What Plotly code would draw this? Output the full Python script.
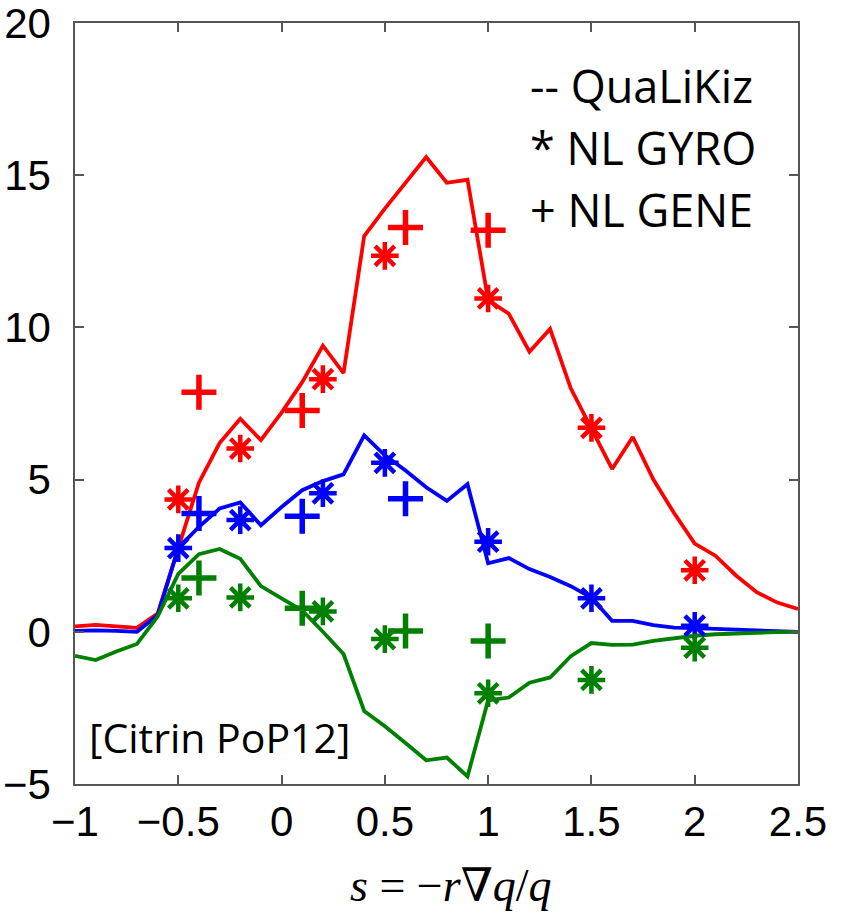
import plotly.graph_objects as go

# ---- data ----
s_grid = [-1.0, -0.9, -0.8, -0.7, -0.6, -0.5, -0.4, -0.3, -0.2, -0.1,
          0.0, 0.1, 0.2, 0.3, 0.4, 0.5, 0.6, 0.7, 0.8, 0.9,
          1.0, 1.1, 1.2, 1.3, 1.4, 1.5, 1.6, 1.7, 1.8, 1.9,
          2.0, 2.1, 2.2, 2.3, 2.4, 2.5]

qlk_red = [0.18, 0.23, 0.18, 0.13, 0.6, 2.8, 4.9, 6.2, 7.0, 6.3,
           7.2, 8.2, 9.4, 8.5, 13.0, 13.9, 14.75, 15.6, 14.75, 14.85,
           10.9, 10.45, 9.2, 9.95, 8.0, 6.7, 5.35, 6.4, 5.0, 3.9,
           2.9, 2.5, 1.85, 1.3, 0.96, 0.75]

qlk_blue = [0.03, 0.05, 0.03, 0.0, 0.55, 2.75, 3.45, 4.05, 4.25, 3.5,
            4.1, 4.65, 4.95, 5.17, 6.45, 5.8, 5.3, 4.75, 4.3, 4.85,
            2.25, 2.42, 2.06, 1.8, 1.5, 1.12, 0.36, 0.36, 0.22, 0.14,
            0.12, 0.1, 0.07, 0.04, 0.02, 0.0]

qlk_green = [-0.79, -0.93, -0.65, -0.4, 0.5, 1.9, 2.55, 2.72, 2.4, 1.5,
             1.1, 0.7, 0.0, -0.73, -2.6, -3.1, -3.65, -4.22, -4.13, -4.75,
             -2.25, -2.16, -1.67, -1.5, -0.8, -0.37, -0.43, -0.42, -0.3, -0.2,
             -0.13, -0.08, -0.05, -0.03, -0.01, 0.0]

gyro_s = [-0.5, -0.2, 0.2, 0.5, 1.0, 1.5, 2.0]
gyro_red = [4.35, 6.02, 8.3, 12.35, 10.95, 6.7, 2.02]
gyro_blue = [2.75, 3.67, 4.55, 5.55, 2.96, 1.1, 0.2]
gyro_green = [1.1, 1.13, 0.67, -0.24, -2.02, -1.58, -0.52]

gene_s = [-0.4, 0.1, 0.6, 1.0]
gene_red = [7.87, 7.27, 13.28, 13.19]
gene_blue = [3.89, 3.8, 4.37, None]
gene_green = [1.77, 0.77, 0.03, -0.3]

x_ticks = [-1, -0.5, 0, 0.5, 1, 1.5, 2, 2.5]
x_tick_labels = ["\u22121", "\u22120.5", "0", "0.5", "1", "1.5", "2", "2.5"]
y_ticks = [-5, 0, 5, 10, 15, 20]
y_tick_labels = ["\u22125", "0", "5", "10", "15", "20"]

RED = "#FF0000"
BLUE = "#0000FF"
GREEN = "#008000"

fig = go.Figure()

for ys, c in [(qlk_red, RED), (qlk_blue, BLUE), (qlk_green, GREEN)]:
    fig.add_trace(go.Scatter(x=s_grid, y=ys, mode="lines",
                             line=dict(color=c, width=3.8), showlegend=False))

for ys, c in [(gyro_red, RED), (gyro_blue, BLUE), (gyro_green, GREEN)]:
    fig.add_trace(go.Scatter(x=gyro_s, y=ys, mode="markers",
                             marker=dict(symbol="asterisk-open", size=23, color=c,
                                         line=dict(color=c, width=4.5)),
                             showlegend=False))

for ys, c in [(gene_red, RED), (gene_blue, BLUE), (gene_green, GREEN)]:
    fig.add_trace(go.Scatter(x=gene_s, y=ys, mode="markers",
                             marker=dict(symbol="cross-thin-open", size=25, color=c,
                                         line=dict(color=c, width=5.5)),
                             showlegend=False))

axis_common = dict(showline=True, linecolor="#555555", linewidth=1.5, mirror="ticks",
                   ticks="inside", ticklen=9, tickwidth=1.5, tickcolor="#555555",
                   showgrid=False, zeroline=False, ticklabeloverflow="allow",
                   automargin=False,
                   tickfont=dict(family="Liberation Sans, Arial, sans-serif", size=42, color="black"))

fig.update_xaxes(range=[-1, 2.5], tickvals=x_ticks, ticktext=x_tick_labels, **axis_common)
fig.update_yaxes(range=[-5, 20], tickvals=y_ticks, ticktext=y_tick_labels,
                 ticklabelstandoff=14, **axis_common)

label_font = dict(family="Open Sans, Noto Sans, sans-serif", size=45, color="black")
for txt, yp in [("-- QuaLiKiz", 0.918), ("* NL GYRO", 0.836), ("+ NL GENE", 0.755)]:
    fig.add_annotation(text=txt, xref="paper", yref="paper", x=0.626, y=yp,
                       xanchor="left", yanchor="middle", showarrow=False, font=label_font)

fig.add_annotation(text="[Citrin PoP12]", xref="paper", yref="paper", x=0.016, y=0.062,
                   xanchor="left", yanchor="middle", showarrow=False,
                   font=dict(family="Open Sans, Noto Sans, sans-serif", size=41, color="black"))

fig.add_annotation(text="<i>s</i> = \u2212<i>r</i>\u2207<i>q</i>/<i>q</i>",
                   xref="paper", yref="paper", x=0.52, y=-0.133,
                   xanchor="center", yanchor="middle", showarrow=False,
                   font=dict(family="Liberation Serif, DejaVu Serif, serif", size=46, color="black"))

fig.update_layout(width=845, height=916, margin=dict(l=75, r=47, t=23, b=132),
                  plot_bgcolor="white", paper_bgcolor="white")

fig.write_html("out.html")
